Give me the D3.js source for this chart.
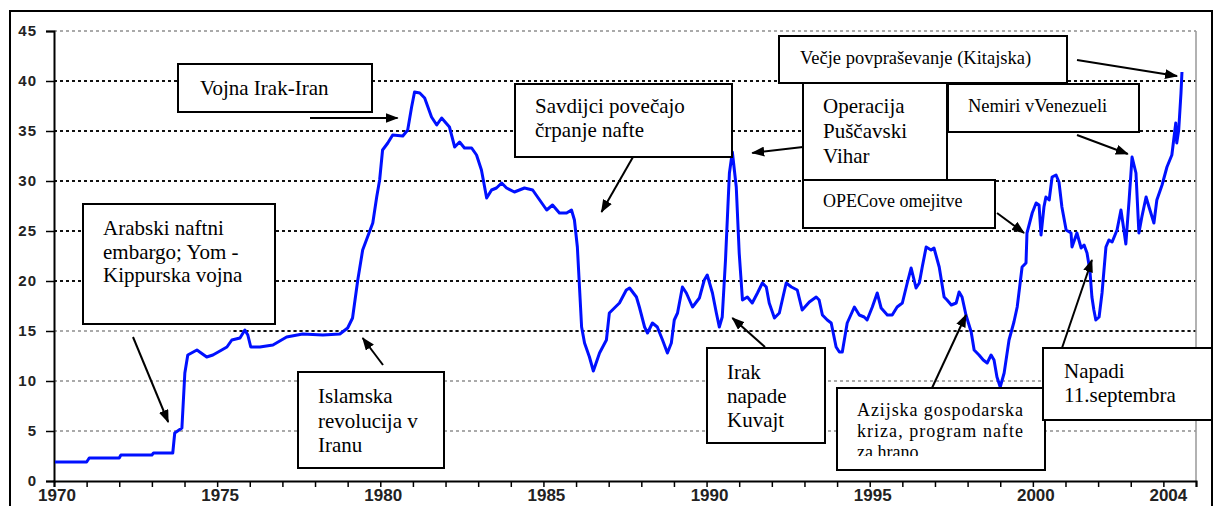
<!DOCTYPE html>
<html>
<head>
<meta charset="utf-8">
<script src="https://cdn.jsdelivr.net/npm/d3@7"></script>
<style>
  html, body { margin: 0; padding: 0; background: #fff; }
  svg { display: block; }
</style>
</head>
<body>
<svg id="chart" width="1215" height="506"></svg>
<script>
// Monthly-ish oil price readings (USD / barrel)
const years = [
  1970.03, 1971.0, 1971.08, 1972.0, 1972.05, 1973.0, 1973.05, 1973.64, 1973.7, 1973.92,
  1974.01, 1974.1, 1974.38, 1974.68, 1974.87, 1975.14, 1975.3, 1975.45, 1975.7, 1975.85,
  1975.94, 1976.03, 1976.31, 1976.71, 1977.13, 1977.62, 1978.24, 1978.76, 1979.0, 1979.15,
  1979.31, 1979.46, 1979.77, 1979.89, 1979.98, 1980.07, 1980.23, 1980.38, 1980.69, 1980.84,
  1980.96, 1981.05, 1981.21, 1981.36, 1981.57, 1981.73, 1981.88, 1982.12, 1982.28, 1982.43,
  1982.58, 1982.8, 1982.95, 1983.1, 1983.26, 1983.41, 1983.56, 1983.72, 1983.87, 1984.11,
  1984.42, 1984.67, 1984.82, 1985.1, 1985.28, 1985.49, 1985.71, 1985.86, 1985.95, 1986.04,
  1986.17, 1986.26, 1986.41, 1986.53, 1986.72, 1986.93, 1987.02, 1987.33, 1987.54, 1987.64,
  1987.85, 1987.94, 1988.1, 1988.19, 1988.34, 1988.49, 1988.65, 1988.8, 1988.92, 1989.01,
  1989.11, 1989.26, 1989.38, 1989.57, 1989.78, 1989.93, 1990.02, 1990.18, 1990.3, 1990.39,
  1990.48, 1990.58, 1990.7, 1990.79, 1990.91, 1991.0, 1991.1, 1991.25, 1991.4, 1991.56,
  1991.71, 1991.83, 1991.92, 1992.08, 1992.23, 1992.44, 1992.6, 1992.78, 1992.93, 1993.15,
  1993.36, 1993.45, 1993.55, 1993.7, 1993.82, 1993.97, 1994.07, 1994.16, 1994.31, 1994.53,
  1994.68, 1994.83, 1994.92, 1995.08, 1995.23, 1995.35, 1995.54, 1995.69, 1995.84, 1996.0,
  1996.15, 1996.27, 1996.42, 1996.52, 1996.61, 1996.73, 1996.88, 1996.97, 1997.13, 1997.28,
  1997.37, 1997.5, 1997.65, 1997.74, 1997.83, 1997.95, 1998.11, 1998.2, 1998.35, 1998.48,
  1998.6, 1998.72, 1998.81, 1998.9, 1999.0, 1999.12, 1999.27, 1999.42, 1999.52, 1999.67,
  1999.79, 1999.82, 1999.98, 2000.1, 2000.19, 2000.25, 2000.34, 2000.4, 2000.5, 2000.59,
  2000.71, 2000.8, 2000.89, 2001.02, 2001.17, 2001.2, 2001.35, 2001.48, 2001.57, 2001.66,
  2001.75, 2001.81, 2001.87, 2001.93, 2002.03, 2002.12, 2002.24, 2002.33, 2002.43, 2002.58,
  2002.7, 2002.79, 2002.85, 2002.95, 2003.04, 2003.16, 2003.25, 2003.34, 2003.47, 2003.56,
  2003.71, 2003.8, 2003.96, 2004.11, 2004.26, 2004.38, 2004.41, 2004.47, 2004.54, 2004.57
];
const prices = [
  1.9, 1.9, 2.3, 2.3, 2.6, 2.6, 2.8, 2.8, 4.8, 5.3,
  10.8, 12.6, 13.1, 12.4, 12.6, 13.1, 13.4, 14.1, 14.3, 15.1,
  14.6, 13.4, 13.4, 13.6, 14.4, 14.7, 14.6, 14.7, 15.3, 16.3,
  20.1, 23.1, 25.8, 28.4, 30.1, 33.1, 33.8, 34.6, 34.5, 35.1,
  37.4, 38.9, 38.8, 38.3, 36.4, 35.6, 36.3, 35.4, 33.4, 33.9,
  33.3, 33.3, 32.6, 31.1, 28.3, 29.1, 29.3, 29.8, 29.3, 28.9,
  29.3, 29.1, 28.4, 27.1, 27.6, 26.8, 26.8, 27.1, 26.1, 23.4,
  15.4, 13.8, 12.4, 11.0, 12.8, 14.1, 16.8, 17.8, 19.1, 19.3,
  18.4, 17.4, 15.4, 14.8, 15.8, 15.4, 14.1, 12.8, 13.8, 16.1,
  16.8, 19.4, 18.8, 17.4, 18.3, 20.1, 20.6, 18.8, 16.8, 15.4,
  16.4, 22.1, 30.8, 32.9, 29.4, 22.8, 18.1, 18.4, 17.8, 18.8,
  19.8, 19.4, 17.8, 16.3, 16.8, 19.8, 19.4, 19.1, 17.1, 17.9,
  18.4, 18.1, 16.6, 16.1, 15.8, 13.4, 12.9, 12.9, 15.8, 17.4,
  16.6, 16.4, 16.1, 17.4, 18.8, 17.3, 16.6, 16.6, 17.4, 17.8,
  19.8, 21.3, 19.3, 19.8, 21.4, 23.4, 23.1, 23.3, 21.4, 18.4,
  18.1, 17.6, 17.8, 18.9, 18.4, 16.6, 14.9, 13.1, 12.6, 12.1,
  11.8, 12.6, 12.1, 10.4, 9.4, 10.8, 14.1, 15.9, 17.4, 21.4,
  21.8, 24.8, 26.8, 27.8, 27.6, 24.6, 27.4, 28.4, 28.1, 30.4,
  30.6, 29.9, 27.4, 25.1, 24.8, 23.4, 24.8, 23.3, 23.6, 22.8,
  21.0, 18.4, 17.1, 16.1, 16.4, 18.8, 23.4, 24.1, 23.9, 25.1,
  27.1, 25.1, 23.7, 28.1, 32.4, 30.8, 24.8, 26.4, 28.4, 27.4,
  25.8, 28.1, 29.6, 31.4, 32.6, 35.8, 33.8, 35.1, 38.8, 40.9
];

const yTicks = [0, 5, 10, 15, 20, 25, 30, 35, 40, 45];
const yearTicks = d3.range(1970, 2006);
const yearLabels = [1970, 1975, 1980, 1985, 1990, 1995, 2000, 2004];

// Annotations: label lines, box, arrow start (px) and the point it marks (year, price)
const notes = [
  { lines: ["Arabski naftni", "embargo; Yom -", "Kippurska vojna"], box: [83, 204, 192, 120], tx: 103, ty: 235, lh: 23.5, size: 21, from: [133, 337], to: [1973.5, 5.9] },
  { lines: ["Islamska", "revolucija v", "Iranu"], box: [298, 372, 146, 96], tx: 318, ty: 403, lh: 24.5, size: 21, from: [383, 365], to: [1979.46, 14.3] },
  { lines: ["Vojna Irak-Iran"], box: [178, 64, 194, 48], tx: 200, ty: 95, lh: 24, size: 21, from: [310, 118], to: [1980.53, 36.3] },
  { lines: ["Savdijci povečajo", "črpanje nafte"], box: [515, 84, 217, 73], tx: 535, ty: 113, lh: 24, size: 21, from: [633, 157], to: [1986.78, 26.9] },
  { lines: ["Irak", "napade", "Kuvajt"], box: [707, 348, 118, 95], tx: 727, ty: 379, lh: 24, size: 21, from: [765, 347], to: [1990.79, 16.3] },
  { lines: ["Azijska gospodarska", "kriza, program nafte", "za hrano"], box: [837, 388, 208, 82], tx: 857, ty: 416, lh: 21, size: 18, justify: 166, clip: 456, from: [932, 388], to: [1997.95, 16.6] },
  { lines: ["Napadi", "11.septembra"], box: [1043, 348, 169, 72], tx: 1064, ty: 378, lh: 24, size: 21, from: [1062, 348], to: [2001.81, 22.1] },
  { lines: ["Večje povpraševanje (Kitajska)"], box: [779, 36, 288, 47], tx: 800, ty: 64, lh: 24, size: 18.5, from: [1077, 60], to: [2004.42, 40.5] },
  { lines: ["Operacija", "Puščavski", "Vihar"], box: [803, 83, 144, 97], tx: 823, ty: 113, lh: 25, size: 21, from: [803, 147], to: [1991.4, 32.8] },
  { lines: ["Nemiri vVenezueli"], box: [948, 84, 191, 48], tx: 968, ty: 112, lh: 24, size: 18.5, from: [1077, 135], to: [2002.91, 32.7] },
  { lines: ["OPECove omejitve"], box: [803, 180, 192, 48], tx: 823, ty: 207, lh: 24, size: 18, from: [997, 213], to: [1999.73, 24.8] }
];

const svg = d3.select("#chart");
const x = d3.scaleLinear().domain([1970, 2005]).range([54, 1196]);
const y = d3.scaleLinear().domain([0, 45]).range([481, 31]);

svg.append("rect").attr("width", 1215).attr("height", 506).attr("fill", "#fff");

const defs = svg.append("defs");
defs.append("marker")
  .attr("id", "head")
  .attr("markerUnits", "userSpaceOnUse")
  .attr("markerWidth", 13).attr("markerHeight", 10)
  .attr("refX", 12).attr("refY", 5)
  .attr("orient", "auto")
  .append("path").attr("d", "M0,0 L13,5 L0,10 Z").attr("fill", "#000");
defs.append("clipPath").attr("id", "clipAz")
  .append("rect").attr("x", 0).attr("y", 0).attr("width", 1215).attr("height", 456);

// gridlines
const grid = svg.append("g");
grid.selectAll("line")
  .data(yTicks.filter(d => d > 0))
  .join("line")
  .attr("x1", x(1970)).attr("x2", x(2005))
  .attr("y1", d => y(d)).attr("y2", d => y(d))
  .attr("stroke", d => (d >= 20 && d < 45) ? "#111" : "#aaa")
  .attr("stroke-width", 2)
  .attr("stroke-dasharray", "3,3");
// the 15 line turns dark past the mid seventies
grid.append("line")
  .attr("x1", x(1975.5)).attr("x2", x(2005))
  .attr("y1", y(15)).attr("y2", y(15))
  .attr("stroke", "#111").attr("stroke-width", 2).attr("stroke-dasharray", "3,3");

// right plot border
svg.append("line")
  .attr("x1", x(2005)).attr("x2", x(2005))
  .attr("y1", y(45)).attr("y2", y(0))
  .attr("stroke", "#999").attr("stroke-width", 1.5);

// y axis
const yAxis = svg.append("g").attr("transform", `translate(${x(1970)},0)`)
  .call(d3.axisLeft(y).tickValues(yTicks).tickSize(8).tickPadding(9));
yAxis.select(".domain").attr("stroke-width", 2);
yAxis.selectAll(".tick line").attr("stroke-width", 1.5);
yAxis.selectAll("text")
  .attr("font-family", "'Liberation Sans', Arial, sans-serif")
  .attr("font-size", 15).attr("font-weight", "bold").attr("fill", "#222")
  .attr("letter-spacing", 1);

// x axis, one tick per year
const xAxis = svg.append("g").attr("transform", `translate(0,${y(0)})`)
  .call(d3.axisBottom(x).tickValues(yearTicks).tickSize(6).tickFormat(""));
xAxis.select(".domain").attr("stroke-width", 2);
xAxis.selectAll(".tick line").attr("stroke-width", 1.5);
svg.append("g").selectAll("text")
  .data(yearLabels)
  .join("text")
  .attr("x", d => x(d) + (d === 2004 ? 5 : 3))
  .attr("y", 501)
  .attr("text-anchor", "middle")
  .attr("font-family", "'Liberation Sans', Arial, sans-serif")
  .attr("font-size", 17).attr("font-weight", "bold").attr("fill", "#222")
  .text(d => d);

// price line
const series = years.map((yr, i) => ({ yr, p: prices[i] }));
svg.append("path")
  .datum(series)
  .attr("fill", "none")
  .attr("stroke", "#0010ff")
  .attr("stroke-width", 3)
  .attr("stroke-linejoin", "round")
  .attr("d", d3.line().x(d => x(d.yr)).y(d => y(d.p)));

// annotation boxes + arrows
const ann = svg.append("g");
notes.forEach(n => {
  const g = ann.append("g");
  g.append("rect")
    .attr("x", n.box[0]).attr("y", n.box[1])
    .attr("width", n.box[2]).attr("height", n.box[3])
    .attr("fill", "#fff").attr("stroke", "#000").attr("stroke-width", 2);
  const tg = g.append("g");
  if (n.clip) tg.attr("clip-path", "url(#clipAz)");
  n.lines.forEach((line, i) => {
    const t = tg.append("text")
      .attr("x", n.tx).attr("y", n.ty + i * n.lh)
      .attr("font-family", "'Liberation Serif', 'Times New Roman', serif")
      .attr("font-size", n.size).attr("fill", "#000")
      .text(line);
    if (n.justify && i < n.lines.length - 1) {
      t.attr("textLength", n.justify).attr("lengthAdjust", "spacing");
    }
  });
  ann.append("line")
    .attr("x1", n.from[0]).attr("y1", n.from[1])
    .attr("x2", x(n.to[0])).attr("y2", y(n.to[1]))
    .attr("stroke", "#000").attr("stroke-width", 2)
    .attr("marker-end", "url(#head)");
});

// outer frame
svg.append("rect")
  .attr("x", 10).attr("y", 11).attr("width", 1202).attr("height", 510)
  .attr("fill", "none").attr("stroke", "#000").attr("stroke-width", 2);
</script>
</body>
</html>
